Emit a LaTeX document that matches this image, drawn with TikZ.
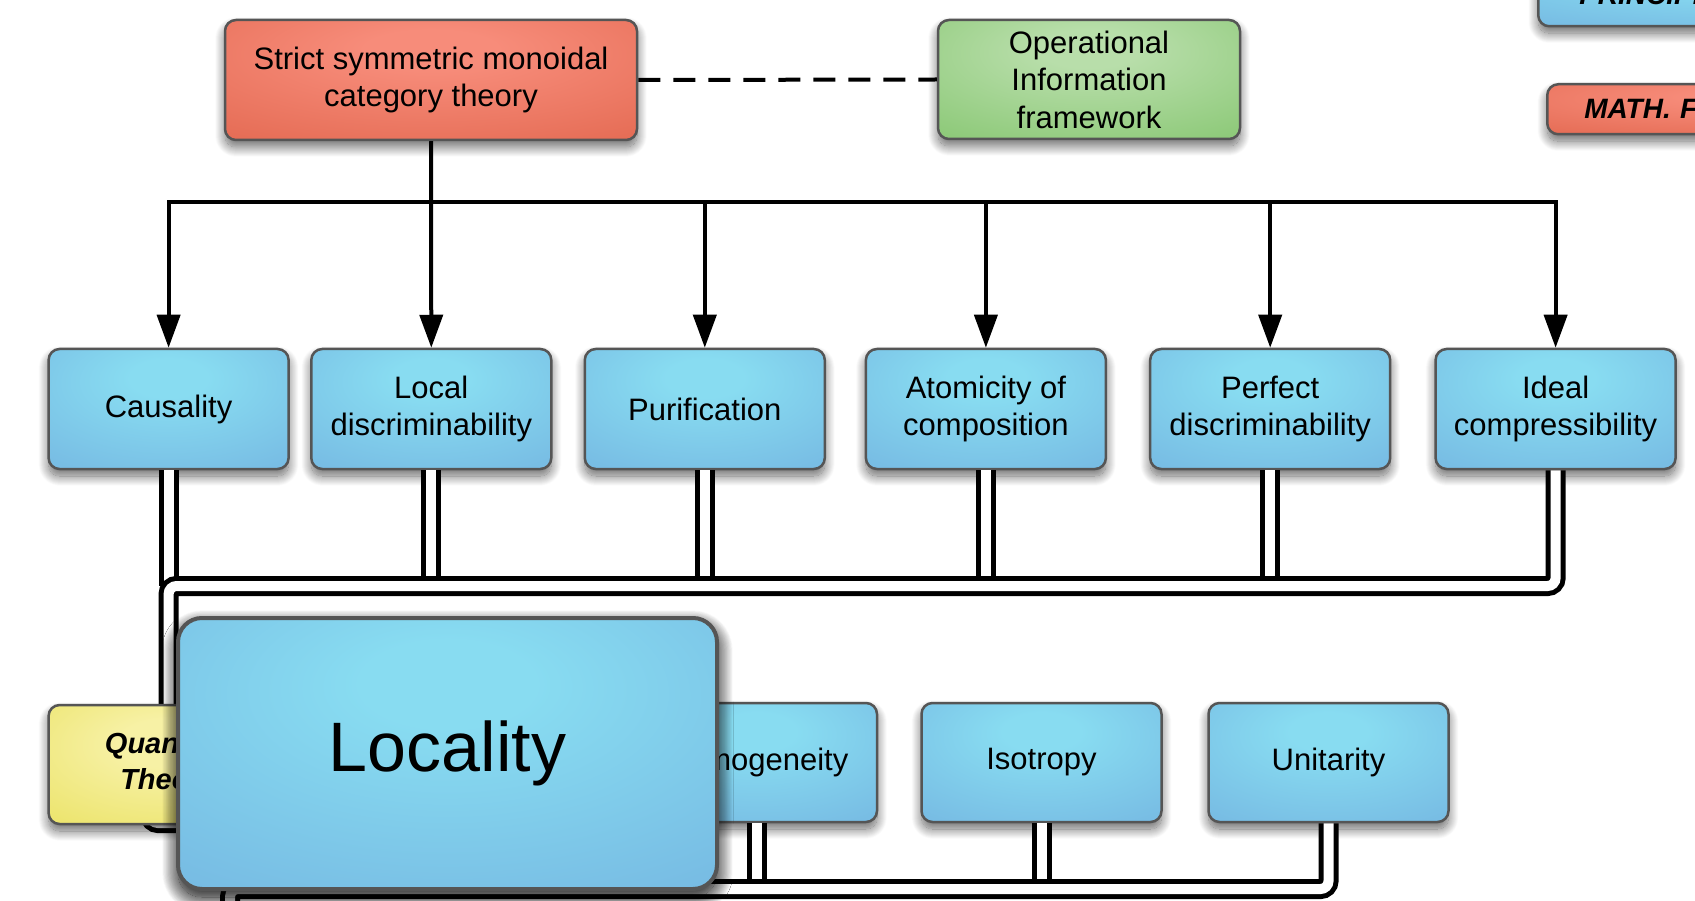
\documentclass[tikz,border=0pt]{standalone}
\usepackage{fontspec}
\setmainfont{Liberation Sans}
\usetikzlibrary{arrows.meta,shadows,shadows.blur}
\definecolor{bluehi}{RGB}{136,220,241}
\definecolor{bluelo}{RGB}{110,170,220}
\definecolor{redhi}{RGB}{247,140,122}
\definecolor{redlo}{RGB}{220,92,66}
\definecolor{greenhi}{RGB}{184,222,170}
\definecolor{greenlo}{RGB}{118,190,94}
\definecolor{yellowhi}{RGB}{247,241,165}
\definecolor{yellowlo}{RGB}{229,220,72}
\definecolor{boxline}{RGB}{85,85,85}
\pgfdeclareradialshading{blueshade}{\pgfpoint{0bp}{14bp}}{color(0bp)=(bluehi); color(8bp)=(bluehi); color(58bp)=(bluelo); color(100bp)=(bluelo)}
\pgfdeclareradialshading{redshade}{\pgfpoint{0bp}{14bp}}{color(0bp)=(redhi); color(8bp)=(redhi); color(58bp)=(redlo); color(100bp)=(redlo)}
\pgfdeclareradialshading{greenshade}{\pgfpoint{0bp}{14bp}}{color(0bp)=(greenhi); color(8bp)=(greenhi); color(58bp)=(greenlo); color(100bp)=(greenlo)}
\pgfdeclareradialshading{yellowshade}{\pgfpoint{0bp}{10bp}}{color(0bp)=(yellowhi); color(10bp)=(yellowhi); color(58bp)=(yellowlo); color(100bp)=(yellowlo)}
\begin{document}
\begin{tikzpicture}[x=1pt,y=-1pt,
  box/.style={draw=boxline, line width=2.5pt, rounded corners=11pt,
    minimum width=240pt, minimum height=120pt, inner sep=0pt, align=center,
    font=\fontsize{31}{37.5}\selectfont, shade,
    blur shadow={shadow xshift=0pt, shadow yshift=-7pt, shadow blur radius=10pt, shadow blur steps=20, shadow opacity=60}},
  bluebox/.style={box, shading=blueshade},
  redbox/.style={box, shading=redshade},
  greenbox/.style={box, shading=greenshade},
  yellowbox/.style={box, shading=yellowshade},
  legend/.style={font=\fontsize{28}{34}\selectfont\bfseries\itshape, align=left, text width=360pt, anchor=north west},
  arr/.style={line width=4pt, -{Triangle[width=23pt,length=33pt]}},
  dbl/.style={line width=5pt, double=white, double distance=10pt, rounded corners=8pt}
]
\useasboundingbox (0,0) rectangle (1695,901);
\clip (0,0) rectangle (1695,901);

% legend (clipped at the right edge)
\node[bluebox, legend, minimum width=430pt, minimum height=62pt, inner xsep=41pt] (legP) at (1537,-37) {PRINCIPLES};
\node[redbox, legend, minimum width=430pt, minimum height=50pt, inner xsep=37pt, inner ysep=0pt] (legM) at (1546,83) {MATH. FRAMEWORK};

% top row
\node[redbox, minimum width=412pt] (smc) at (431,80) {Strict symmetric monoidal\\category theory};
\node[greenbox, minimum width=302pt, minimum height=119pt] (oif) at (1089,79.5) {Operational\\Information\\framework};

% middle row
\node[bluebox] (caus) at (168.6,409) {Causality};
\node[bluebox] (locd) at (431.3,409) {Local\\discriminability};
\node[bluebox] (puri) at (704.8,409) {Purification};
\node[bluebox] (atom) at (985.9,409) {Atomicity of\\composition};
\node[bluebox] (perf) at (1270.2,409) {Perfect\\discriminability};
\node[bluebox] (ideal) at (1555.6,409) {Ideal\\compressibility};

% black connectors
\coordinate (bus) at (0,202);
\draw[dashed, line width=4pt, dash pattern=on 22pt off 13pt] (smc.east) -- (oif.west);
\draw[arr] (smc.south) -- (locd.north);
\draw[arr] (bus -| locd.north) -- (bus -| caus.north) -- (caus.north);
\draw[arr] (bus -| locd.north) -- (bus -| ideal.north) -- (ideal.north);
\draw[arr] (bus -| puri.north) -- (puri.north);
\draw[arr] (bus -| atom.north) -- (atom.north);
\draw[arr] (bus -| perf.north) -- (perf.north);

% double connectors, middle row
\coordinate (busd) at (0,586);
\foreach \n in {caus,locd,puri,atom,perf}
  \draw[dbl] (\n.south) -- (busd -| \n.south);

% bottom row nodes
\node[bluebox, minimum height=119pt] (homo) at (757,762.5) {Homogeneity};
\node[bluebox, minimum height=119pt] (iso) at (1041.5,762.5) {Isotropy};
\node[bluebox, minimum height=119pt] (unit) at (1328.5,762.5) {Unitarity};

\draw[dbl] (ideal.south) -- (busd -| ideal.south) -- (busd -| caus.south) -- (caus.south |- 0,706);

% stub below Quantum Theory
\coordinate (qs1) at (150,790);
\coordinate (qs2) at (330,823);
\draw[dbl] (qs1) |- (qs2);

% bottom double bus
\coordinate (bbus) at (230,889);
\draw[dbl] (homo.south) -- (bbus -| homo.south);
\draw[dbl] (iso.south) -- (bbus -| iso.south);
\draw[dbl] (unit.south) |- (bbus) -- ++(0,40);

\node[yellowbox, minimum height=119pt, font=\fontsize{29}{36}\selectfont\bfseries\itshape] (qt) at (168.6,764.5) {Quantum\\Theory};

\node[bluebox, minimum width=539pt, minimum height=271pt, rounded corners=24pt, line width=4pt,
  font=\fontsize{70}{80}\selectfont,
  blur shadow={shadow xshift=0pt, shadow yshift=-8pt, shadow blur radius=16pt, shadow blur steps=30, shadow opacity=65}] (loc) at (447.5,753.5) {Locality};
\end{tikzpicture}
\end{document}
